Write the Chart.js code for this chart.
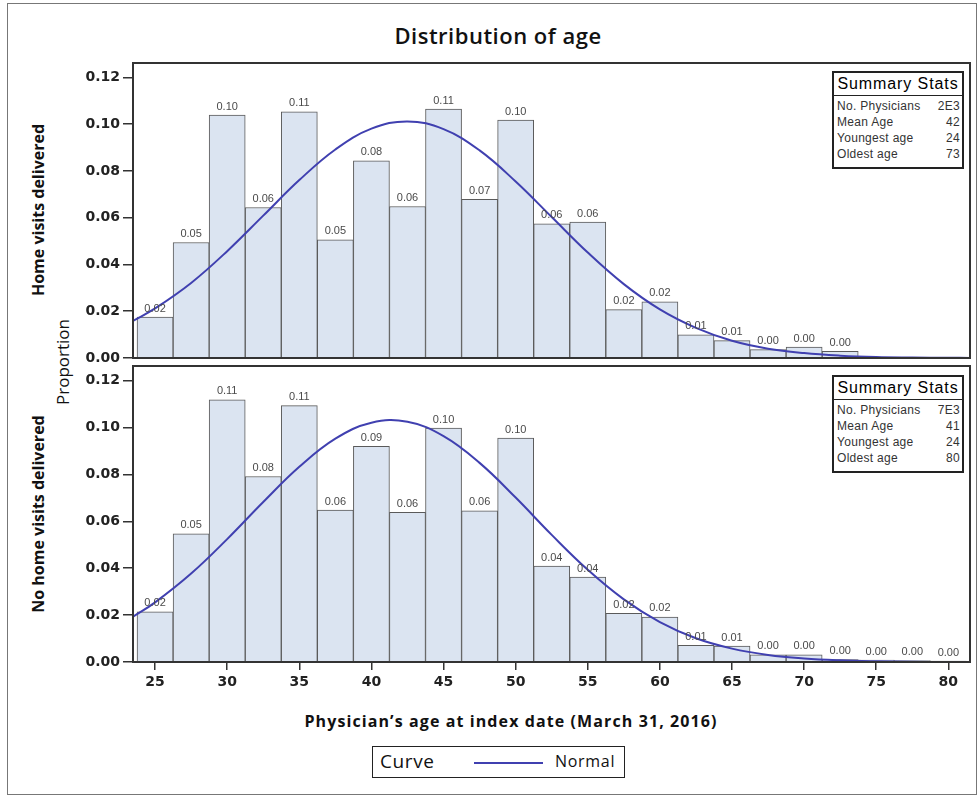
<!DOCTYPE html>
<html>
<head>
<meta charset="utf-8">
<script src="https://cdn.jsdelivr.net/npm/chart.js@4.4.1/dist/chart.umd.min.js"></script>
<style>
  body { margin: 0; background: #fff; width: 979px; height: 796px; position: relative; overflow: hidden; font-family: "Open Sans", sans-serif; }
  .frame { position: absolute; left: 7px; top: 3px; width: 970px; height: 792px; border: 1px solid #777; box-sizing: border-box; }
  canvas { position: absolute; left: 0; }
  #title { position: absolute; left: 0; width: 996px; top: 20px; text-align: center; font: 600 22px "Open Sans"; letter-spacing: 0.5px; color: #111; }
  .ytitle { position: absolute; transform: translate(-50%, -50%) rotate(-90deg); white-space: nowrap; color: #111; }
  .bold { font: bold 16px "Open Sans"; }
  #xtitle { position: absolute; left: 280px; width: 462px; top: 710px; text-align: center; font: bold 16px "Open Sans"; letter-spacing: 1.1px; color: #111; white-space: nowrap; }
  .stats { position: absolute; left: 832px; width: 132px; height: 98px; border: 2px solid #222; box-sizing: border-box; font-family: "Liberation Sans", Arial, sans-serif; background: #fff; }
  .stats .hd { font-size: 16px; letter-spacing: 0.9px; text-align: center; height: 22px; line-height: 22px; border-bottom: 1px solid #222; color: #000; white-space: nowrap; }
  .stats .row { display: flex; justify-content: space-between; font-size: 12px; letter-spacing: 0.3px; line-height: 16px; color: #333; padding: 0 2px 0 3px; }
  .stats .rows { padding-top: 2px; }
  #legend { position: absolute; left: 372px; top: 746px; width: 253px; height: 32px; border: 1.5px solid #222; box-sizing: border-box; font-family: "Open Sans", sans-serif; color: #111; }
  #legend .curve { position: absolute; left: 7px; top: 1px; font-size: 19px; letter-spacing: 0.6px; }
  #legend .line { position: absolute; left: 101px; top: 15px; width: 69px; height: 2px; background: #4040b0; }
  #legend .normal { position: absolute; left: 182px; top: 3px; font-size: 16px; letter-spacing: 0.7px; }
</style>
</head>
<body>
<div class="frame"></div>
<div id="title">Distribution of age</div>
<div class="ytitle bold" style="left:38px; top:210px;">Home visits delivered</div>
<div class="ytitle" style="left:62px; top:362px; font-size:17px;">Proportion</div>
<div class="ytitle bold" style="left:38px; top:514px;">No home visits delivered</div>

<canvas id="topChart" width="979" height="372" style="top:0;"></canvas>
<canvas id="bottomChart" width="979" height="345" style="top:360px;"></canvas>

<div class="stats" style="top:71px;">
  <div class="hd">Summary Stats</div>
  <div class="rows">
    <div class="row"><span>No. Physicians</span><span>2E3</span></div>
    <div class="row"><span>Mean Age</span><span>42</span></div>
    <div class="row"><span>Youngest age</span><span>24</span></div>
    <div class="row"><span>Oldest age</span><span>73</span></div>
  </div>
</div>
<div class="stats" style="top:375px;">
  <div class="hd">Summary Stats</div>
  <div class="rows">
    <div class="row"><span>No. Physicians</span><span>7E3</span></div>
    <div class="row"><span>Mean Age</span><span>41</span></div>
    <div class="row"><span>Youngest age</span><span>24</span></div>
    <div class="row"><span>Oldest age</span><span>80</span></div>
  </div>
</div>

<div id="xtitle">Physician’s age at index date (March 31, 2016)</div>
<div id="legend">
  <span class="curve">Curve</span>
  <span class="line"></span>
  <span class="normal">Normal</span>
</div>

<script>
// bin midpoints (bin width 2.5 years)
const binCenters = [25, 27.5, 30, 32.5, 35, 37.5, 40, 42.5, 45, 47.5, 50, 52.5,
                    55, 57.5, 60, 62.5, 65, 67.5, 70, 72.5, 75, 77.5, 80];

// proportions
const homeVisitProp = [0.0175, 0.0494, 0.1039, 0.0644, 0.1053, 0.0506, 0.0843, 0.0648,
                       0.1065, 0.0679, 0.1018, 0.0574, 0.0581, 0.0207, 0.0240, 0.0099,
                       0.0074, 0.0036, 0.0047, 0.0029];
const noHomeVisitProp = [0.0214, 0.0546, 0.1118, 0.0791, 0.1093, 0.0648, 0.0919, 0.0638,
                         0.0997, 0.0645, 0.0955, 0.0409, 0.0362, 0.0207, 0.0192, 0.0071,
                         0.0068, 0.0031, 0.0031, 0.0010, 0.0008, 0.0006, 0.0004];

// normal curve, read at these ages
const curveAges = [23.5, 25, 27.5, 30, 32.5, 35, 37.5, 40, 42.5, 45, 47.5, 50, 52.5,
                   55, 57.5, 60, 62.5, 65, 67.5, 70, 72.5, 75, 77.5, 80, 81.5];
const homeCurve = [0.0160, 0.0212, 0.0321, 0.0457, 0.0609, 0.0761, 0.0892, 0.0981, 0.1012,
                   0.0979, 0.0888, 0.0755, 0.0603, 0.0451, 0.0316, 0.0208, 0.0129, 0.0074,
                   0.0040, 0.0021, 0.0010, 0.0004, 0.0002, 0.0001, 0.0000];
const noHomeCurve = [0.0194, 0.0254, 0.0377, 0.0524, 0.0682, 0.0832, 0.0952, 0.1020, 0.1024,
                     0.0963, 0.0849, 0.0701, 0.0542, 0.0393, 0.0267, 0.0170, 0.0101, 0.0057,
                     0.0030, 0.0015, 0.0007, 0.0003, 0.0001, 0.0000, 0.0000];

const xTicks = [25, 30, 35, 40, 45, 50, 55, 60, 65, 70, 75, 80];
const yTicks = [0, 0.02, 0.04, 0.06, 0.08, 0.10, 0.12];

const xMin = 23.47, xMax = 81.5;
const yMax = 0.1262;

const barFill = '#dbe4f1';
const barEdge = '#5a5a5a';
const curveColor = '#4040b0';
const tickFont = { family: 'DejaVu Sans', size: 14, weight: 'bold' };

// value labels above each bar
const barLabels = {
    id: 'barLabels',
    afterDatasetsDraw(chart) {
        const ctx = chart.ctx;
        const meta = chart.getDatasetMeta(0);
        const vals = chart.data.datasets[0].data;
        ctx.save();
        ctx.font = '11px "Liberation Sans", Arial, sans-serif';
        ctx.fillStyle = '#4a4a4a';
        ctx.textAlign = 'center';
        ctx.textBaseline = 'bottom';
        meta.data.forEach((el, i) => {
            ctx.fillText(vals[i].y.toFixed(2), el.x, el.y - 3);
        });
        ctx.restore();
    }
};

// box round the plot area
const panelFrame = {
    id: 'panelFrame',
    afterDraw(chart) {
        const a = chart.chartArea;
        const ctx = chart.ctx;
        ctx.save();
        ctx.strokeStyle = '#333';
        ctx.lineWidth = 2;
        ctx.strokeRect(a.left, a.top, a.right - a.left, a.bottom - a.top);
        ctx.restore();
    }
};

function makeChart(id, props, curve, showX, padding) {
    const bars = props.map((v, i) => ({ x: binCenters[i], y: v }));
    const line = curve.map((v, i) => ({ x: curveAges[i], y: v }));
    return new Chart(document.getElementById(id).getContext('2d'), {
        type: 'bar',
        data: {
            datasets: [
                {
                    type: 'bar',
                    data: bars,
                    backgroundColor: barFill,
                    borderColor: barEdge,
                    borderWidth: 1,
                    borderSkipped: 'start',
                    barPercentage: 1,
                    categoryPercentage: 1,
                    order: 2
                },
                {
                    type: 'line',
                    data: line,
                    borderColor: curveColor,
                    borderWidth: 2,
                    pointRadius: 0,
                    tension: 0.4,
                    fill: false,
                    order: 1
                }
            ]
        },
        options: {
            responsive: false,
            animation: false,
            layout: { padding: padding },
            plugins: { legend: { display: false }, tooltip: { enabled: false } },
            scales: {
                x: {
                    type: 'linear',
                    min: xMin,
                    max: xMax,
                    offset: false,
                    display: showX,
                    afterBuildTicks: s => { s.ticks = xTicks.map(v => ({ value: v })); },
                    afterFit: s => {
                        s.height = showX ? 38 : 0;
                        s.paddingLeft = 0;
                        s.paddingRight = 0;
                    },
                    border: { display: false },
                    grid: { offset: false, drawOnChartArea: false, drawTicks: true, tickLength: 8, color: '#333', lineWidth: 1.5 },
                    ticks: { color: '#222', font: tickFont, padding: 4, maxRotation: 0 }
                },
                y: {
                    min: 0,
                    max: yMax,
                    afterBuildTicks: s => { s.ticks = yTicks.map(v => ({ value: v })); },
                    afterFit: s => {
                        s.width = 133;
                        s.paddingTop = 0;
                        s.paddingBottom = 0;
                    },
                    border: { display: false },
                    grid: { drawOnChartArea: false, drawTicks: true, tickLength: 10, color: '#333', lineWidth: 1.5 },
                    ticks: { color: '#222', font: tickFont, padding: 3, callback: v => v.toFixed(2) }
                }
            }
        },
        plugins: [barLabels, panelFrame]
    });
}

makeChart('topChart', homeVisitProp, homeCurve, false, { left: 0, right: 9, top: 63, bottom: 14 });
makeChart('bottomChart', noHomeVisitProp, noHomeCurve, true, { left: 0, right: 9, top: 6, bottom: 5 });
</script>
</body>
</html>
